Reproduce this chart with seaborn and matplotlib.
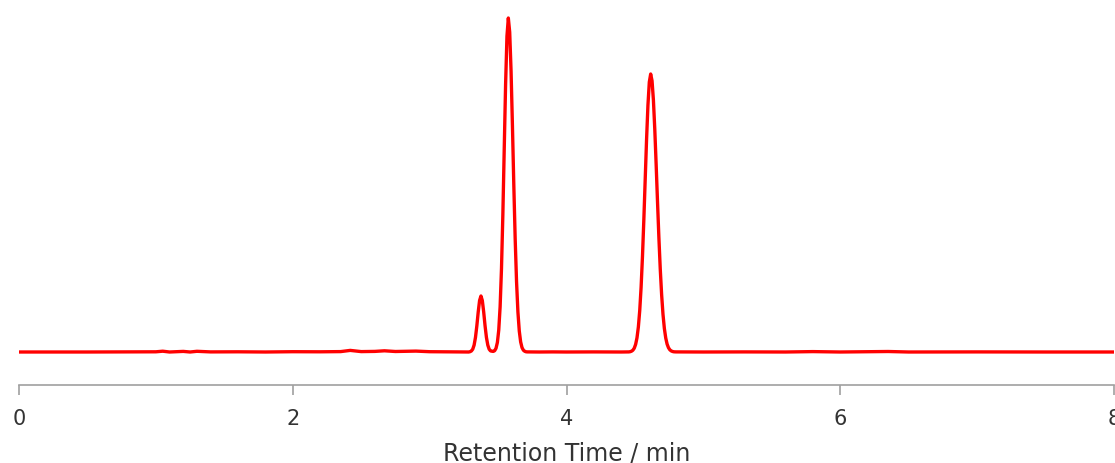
#!/usr/bin/env python3
"""Chromatogram: detector signal vs retention time (single red trace)."""
import matplotlib
matplotlib.use('Agg')
import matplotlib.pyplot as plt
import pandas as pd
import seaborn as sns

# Flat baseline before the peaks (min, signal a.u.)
base_pre_time = [0.0, 0.5, 1.0, 1.05, 1.1, 1.2, 1.25, 1.3, 1.4, 1.6, 1.8, 2.0,
                 2.2, 2.35, 2.42, 2.5, 2.6, 2.67, 2.75, 2.9, 3.0, 3.1, 3.2, 3.285]
base_pre_signal = [0.0, 0.0, 0.2, 0.8, 0.0, 0.6, 0.0, 0.7, 0.1, 0.2, 0.0, 0.3,
                   0.2, 0.4, 1.6, 0.4, 0.6, 1.2, 0.5, 0.9, 0.3, 0.2, 0.1, 0.0]

# Small peak + main peak (3.3 - 3.7 min)
peaks12_time = [3.295, 3.305, 3.315, 3.325, 3.335, 3.345, 3.355, 3.365, 3.375,
                3.385, 3.395, 3.405, 3.415, 3.425, 3.435, 3.445, 3.455, 3.465,
                3.475, 3.485, 3.495, 3.505, 3.515, 3.525, 3.535, 3.545, 3.555,
                3.565, 3.575, 3.585, 3.595, 3.605, 3.615, 3.625, 3.635, 3.645,
                3.655, 3.665, 3.675, 3.685, 3.695, 3.705]
peaks12_signal = [0.3, 1.0, 2.8, 6.9, 14.6, 26.2, 40.0, 51.5, 56.0,
                  51.5, 40.0, 26.2, 14.6, 6.9, 2.8, 1.1, 0.8, 0.6,
                  1.3, 3.7, 9.5, 21.9, 45.2, 83.3, 137.3, 202.6, 267.5,
                  315.9, 334.0, 319.9, 280.9, 226.3, 167.2, 113.3, 70.4, 40.1,
                  21.0, 10.1, 4.4, 1.8, 0.7, 0.2]

base_mid_time = [3.715, 3.8, 3.9, 4.0, 4.2, 4.4, 4.455]
base_mid_signal = [0.1, 0.0, 0.1, 0.0, 0.1, 0.0, 0.1]

# Third peak (~4.6 min)
peak3_time = [4.465, 4.475, 4.485, 4.495, 4.505, 4.515, 4.525, 4.535, 4.545,
              4.555, 4.565, 4.575, 4.585, 4.595, 4.605, 4.615, 4.625, 4.635,
              4.645, 4.655, 4.665, 4.675, 4.685, 4.695, 4.705, 4.715, 4.725,
              4.735, 4.745, 4.755, 4.765, 4.775, 4.785]
peak3_signal = [0.3, 0.8, 1.8, 3.8, 7.6, 14.2, 25.0, 41.4, 64.8,
                95.3, 132.1, 172.7, 212.7, 246.8, 269.9, 278.0, 271.2, 251.9,
                222.6, 187.3, 150.0, 114.3, 82.9, 57.3, 37.6, 23.5, 14.0,
                7.9, 4.3, 2.2, 1.1, 0.5, 0.2]

base_post_time = [4.8, 5.0, 5.3, 5.6, 5.8, 5.9, 6.0, 6.35, 6.5, 7.0, 7.5, 8.0]
base_post_signal = [0.1, 0.0, 0.1, 0.0, 0.4, 0.2, 0.0, 0.5, 0.0, 0.1, 0.0, 0.0]


def main():
    df = pd.DataFrame({
        'time': base_pre_time + peaks12_time + base_mid_time + peak3_time + base_post_time,
        'signal': base_pre_signal + peaks12_signal + base_mid_signal + peak3_signal + base_post_signal,
    })

    sns.set_style('white')
    plt.rcParams['font.family'] = ['DejaVu Sans']

    fig = plt.figure(figsize=(11.15, 4.63), dpi=100)
    ax = fig.add_axes([19 / 1115, 78 / 463, 1095 / 1115, 385 / 463])

    sns.lineplot(data=df, x='time', y='signal', color='#ff0000', linewidth=2.4,
                 estimator=None, sort=True, ax=ax)

    ax.set_xlim(0, 8)
    ax.set_ylim(-33, 352)
    ax.set_xticks([0, 2, 4, 6, 8])
    ax.set_yticks([])
    ax.set_ylabel('')
    ax.set_xlabel('Retention Time / min', fontsize=17, color='#333333', labelpad=9)

    for side in ('left', 'top', 'right'):
        ax.spines[side].set_visible(False)
    ax.spines['bottom'].set_color('#a0a0a0')
    ax.spines['bottom'].set_linewidth(1.2)
    ax.tick_params(axis='x', bottom=True, direction='out', length=7, width=1.2,
                   color='#a0a0a0', labelsize=15, labelcolor='#333333', pad=10)
    ax.patch.set_alpha(0)

    fig.savefig('out.png', dpi=100)


if __name__ == '__main__':
    main()
